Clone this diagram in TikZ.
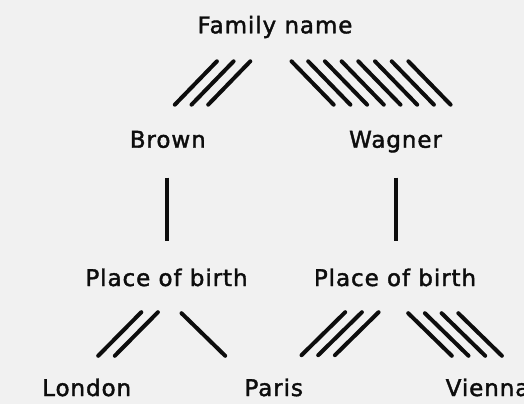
\documentclass[tikz,border=0pt]{standalone}
\usepackage{fontspec}
\newfontfamily\labelfont{DejaVu Sans}[LetterSpace=4, FakeBold=1.7]
\begin{document}
\begin{tikzpicture}[x=1pt, y=-1pt,
  label/.style={inner sep=0pt, anchor=base, text=ink, font=\labelfont\fontsize{23}{27}\selectfont},
  stroke/.style={draw=ink, line width=4pt, line cap=round}]
\definecolor{ink}{HTML}{0D0D0D}
\definecolor{paper}{HTML}{F1F1F1}
% page and background
\fill[paper] (0,0) rectangle (524,404);
\clip (0,0) rectangle (524,404);
\useasboundingbox (0,0) rectangle (524,404);

% labels (positions are baselines)
\node[label] (fam)    at (275,33.3)   {Family name};
\node[label] (brown)  at (167.8,147.7){Brown};
\node[label] (wagner) at (395.5,147.7){Wagner};
\node[label] (pobL)   at (166.5,286)  {Place of birth};
\node[label] (pobR)   at (395,286)    {Place of birth};
\node[label] (london) at (86.7,396)   {London};
\node[label] (paris)  at (273.7,396)  {Paris};
\node[label, anchor=base west] (vienna) at (445.5,396) {Vienna};

% hatched links: one stroke per unit, drawn as parallel bars
% Family name -> Brown (3)
\foreach \i in {0,1,2}
  \draw[stroke] (174.8+16.7*\i,104.7) -- (216.9+16.7*\i,61.3);
% Family name -> Wagner (8)
\foreach \i in {0,...,7}
  \draw[stroke] (291.5+16.7*\i,61.3) -- (333.7+16.7*\i,104.7);

% Brown -> Place of birth, Wagner -> Place of birth
\coordinate (bT) at (166.7,177.5);
\coordinate (bB) at (166.7,241.2);
\coordinate (wT) at (395.7,177.5);
\coordinate (wB) at (395.7,241.2);
\draw[stroke, line cap=butt] (bT) -- (bB);
\draw[stroke, line cap=butt] (wT) -- (wB);

% Place of birth -> London (2), -> Paris (1)
\foreach \i in {0,1}
  \draw[stroke] (98.2+16.6*\i,355.8) -- (141.3+16.6*\i,312.2);
\draw[stroke] (181.5,313.2) -- (225.2,355.8);

% Place of birth -> Paris (3), -> Vienna (4)
\foreach \i in {0,1,2}
  \draw[stroke] (301.5+16.7*\i,355.2) -- (345.2+16.7*\i,312.2);
\foreach \i in {0,...,3}
  \draw[stroke] (408.2+16.7*\i,313.2) -- (451.8+16.7*\i,355.8);
\end{tikzpicture}
\end{document}
